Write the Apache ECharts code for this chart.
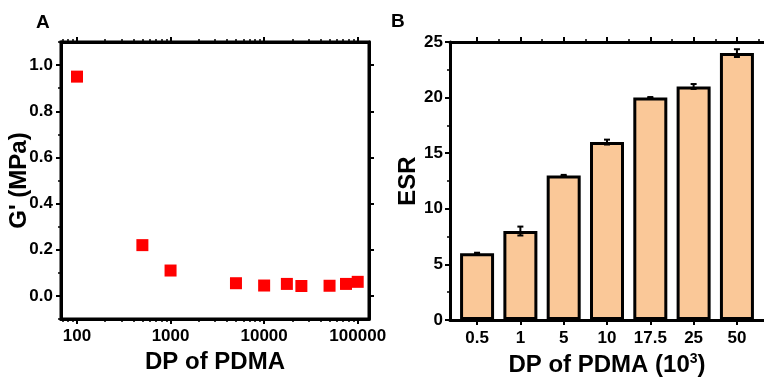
<!DOCTYPE html>
<html>
<head>
<meta charset="utf-8">
<script src="https://cdn.jsdelivr.net/npm/echarts@6/dist/echarts.min.js"></script>
<style>
  html, body { margin: 0; padding: 0; background: #fff; }
  #chart { width: 764px; height: 382px; }
</style>
</head>
<body>
<div id="chart"></div>
<script>
// panel A: storage modulus vs degree of polymerisation
const dpA = [100, 500, 1000, 5000, 10000, 17500, 25000, 50000, 75000, 100000];
const gPrime = [0.95, 0.22, 0.11, 0.055, 0.045, 0.052, 0.043, 0.044, 0.052, 0.061];
const xMajorA = [100, 1000, 10000, 100000];
const xMinorA = [70, 80, 90, 200, 300, 400, 500, 600, 700, 800, 900,
  2000, 3000, 4000, 5000, 6000, 7000, 8000, 9000,
  20000, 30000, 40000, 50000, 60000, 70000, 80000, 90000];
const yMajorA = [0, 0.2, 0.4, 0.6, 0.8, 1.0];
const yMinorA = [-0.1, 0.1, 0.3, 0.5, 0.7, 0.9, 1.1];

// panel B: ESR per DP (10^3)
const esrCats = ['0.5', '1', '5', '10', '17.5', '25', '50'];
const esrVals = [6, 8, 13, 16, 20, 21, 24];
const esrErr = [0.05, 0.4, 0.05, 0.22, 0.05, 0.22, 0.35];

const FONT = "'Liberation Sans', Arial, sans-serif";
const posB = esrCats.map((c, i) => i + 1);
const minorB = posB.map(p => p + 0.5);

const lbl = () => ({ color: '#000', fontFamily: FONT, fontWeight: 'bold', fontSize: 17 });
const nameStyle = () => ({ color: '#000', fontFamily: FONT, fontWeight: 'bold', fontSize: 24 });

// one axis = a frame side; minor ones hide their line
function tickAxis(extra, minor) {
  return Object.assign({
    axisLine: { show: !minor, onZero: false, lineStyle: { color: '#000', width: 3 } },
    axisTick: {
      show: true, inside: false, length: minor ? 3 : 5,
      lineStyle: { color: '#000', width: minor ? 1.5 : 2 },
    },
    axisLabel: { show: false },
    splitLine: { show: false },
  }, extra);
}

const chart = echarts.init(document.getElementById('chart'));

const logA = { type: 'log', gridIndex: 0, min: 67.5, max: 132000 };
const valA = { type: 'value', gridIndex: 0, min: -0.1, max: 1.1 };
const valB = { type: 'value', gridIndex: 1, min: 0.375, max: 7.625 };

function withTicks(axis, values) {
  axis.axisTick.customValues = values;
  return axis;
}

chart.setOption({
  animation: false,
  graphic: [
    { type: 'text', left: 36, top: 13, style: { text: 'A', font: 'bold 19px ' + FONT, fill: '#000' } },
    { type: 'text', left: 391, top: 12, style: { text: 'B', font: 'bold 19px ' + FONT, fill: '#000' } },
  ],
  grid: [
    { left: 61, top: 42, width: 308, height: 277, show: true, borderColor: '#000', borderWidth: 3 },
    { left: 450, top: 42, width: 321, height: 278 },
  ],
  xAxis: [
    withTicks(tickAxis(Object.assign({}, logA, {
      position: 'bottom',
      axisLabel: Object.assign({ show: true, margin: 9, customValues: xMajorA, formatter: v => String(v) }, lbl()),
      name: 'DP of PDMA', nameLocation: 'middle', nameGap: 30, nameTextStyle: nameStyle(),
    })), xMajorA),
    withTicks(tickAxis(Object.assign({}, logA, { position: 'top' })), xMajorA),
    withTicks(tickAxis(Object.assign({}, logA, { position: 'bottom' }), true), xMinorA),
    withTicks(tickAxis(Object.assign({}, logA, { position: 'top' }), true), xMinorA),
    withTicks(tickAxis(Object.assign({}, valB, {
      position: 'bottom',
      axisLabel: Object.assign({
        show: true, margin: 10, customValues: posB,
        formatter: v => esrCats[Math.round(v) - 1] || '',
      }, lbl()),
      name: '{a|DP of PDMA (10}{s|3}{a|)}', nameLocation: 'middle', nameGap: 30,
      nameTextStyle: {
        rich: {
          a: nameStyle(),
          s: { color: '#000', fontFamily: FONT, fontWeight: 'bold', fontSize: 14, verticalAlign: 'top', padding: [0, 0, 12, 0] },
        },
      },
    })), posB),
    withTicks(tickAxis(Object.assign({}, valB, { position: 'top' })), posB),
    withTicks(tickAxis(Object.assign({}, valB, { position: 'top' }), true), minorB),
  ],
  yAxis: [
    withTicks(tickAxis(Object.assign({}, valA, {
      position: 'left',
      axisLabel: Object.assign({ show: true, margin: 8, customValues: yMajorA, formatter: v => v.toFixed(1) }, lbl()),
      name: "G' (MPa)", nameLocation: 'middle', nameGap: 30, nameMoveOverlap: false, nameTextStyle: nameStyle(),
    })), yMajorA),
    withTicks(tickAxis(Object.assign({}, valA, { position: 'right' })), yMajorA),
    withTicks(tickAxis(Object.assign({}, valA, { position: 'left' }), true), yMinorA),
    tickAxis({
      type: 'value', gridIndex: 1, min: 0, max: 25, interval: 5, position: 'left',
      minorTick: { show: true, splitNumber: 2, length: 3, lineStyle: { width: 1.5, color: '#000' } },
      axisLabel: Object.assign({ show: true, margin: 7 }, lbl()),
      name: 'ESR', nameLocation: 'middle', nameGap: 30, nameTextStyle: nameStyle(),
    }),
  ],
  series: [
    {
      type: 'scatter', xAxisIndex: 0, yAxisIndex: 0,
      symbol: 'rect', symbolSize: 12,
      itemStyle: { color: '#ff0000', opacity: 1 },
      data: dpA.map((d, i) => [d, gPrime[i]]),
      z: 5,
    },
    {
      type: 'bar', xAxisIndex: 4, yAxisIndex: 3,
      barWidth: 34,
      itemStyle: { color: '#fac898', borderColor: '#000', borderWidth: 3 },
      data: posB.map((p, i) => [p, esrVals[i]]),
    },
    {
      type: 'custom', xAxisIndex: 4, yAxisIndex: 3, z: 10,
      data: posB.map((p, i) => [p, esrVals[i] - esrErr[i], esrVals[i] + esrErr[i]]),
      renderItem: (params, api) => {
        const lo = api.coord([api.value(0), api.value(1)]);
        const hi = api.coord([api.value(0), api.value(2)]);
        const s = { stroke: '#000', lineWidth: 2 };
        return {
          type: 'group',
          children: [
            { type: 'line', shape: { x1: lo[0], y1: lo[1], x2: hi[0], y2: hi[1] }, style: s },
            { type: 'line', shape: { x1: lo[0] - 3, y1: lo[1], x2: lo[0] + 3, y2: lo[1] }, style: s },
            { type: 'line', shape: { x1: hi[0] - 3, y1: hi[1], x2: hi[0] + 3, y2: hi[1] }, style: s },
          ],
        };
      },
    },
  ],
});
</script>
</body>
</html>
